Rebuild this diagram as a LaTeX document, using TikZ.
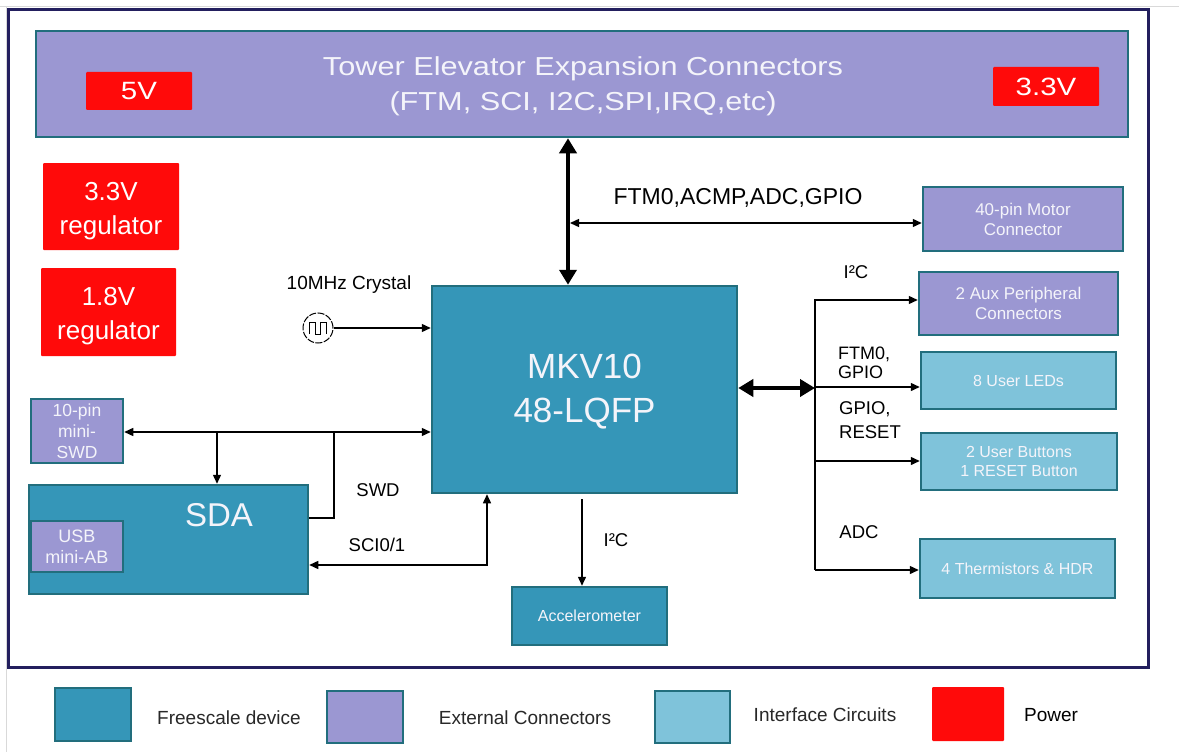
\documentclass[tikz,border=0pt]{standalone}
\usepackage{fontspec}
\setmainfont{Liberation Sans}
\newfontfamily\widefont[FakeStretch=1.18]{Liberation Sans}
\usetikzlibrary{arrows.meta}
\definecolor{devc}{RGB}{53,150,184}
\definecolor{extc}{RGB}{155,151,210}
\definecolor{ifcc}{RGB}{127,195,218}
\definecolor{pwrc}{RGB}{255,10,10}
\definecolor{bordc}{RGB}{34,110,125}
\definecolor{framec}{RGB}{35,31,94}
\definecolor{boxtxt}{RGB}{244,244,250}
\definecolor{legtxt}{RGB}{40,40,40}
\tikzset{
  box/.style={draw=bordc, line width=2.5pt, inner sep=0pt, text=boxtxt, align=center},
  devbox/.style={box, fill=devc},
  extbox/.style={box, fill=extc},
  ifcbox/.style={box, fill=ifcc},
  pwrbox/.style={fill=pwrc, draw=none, rounded corners=1pt, inner sep=0pt, text=white, align=center},
  inner/.style={text=boxtxt, inner sep=0pt, align=center},
  lbl/.style={text=black, inner sep=0pt, align=center},
  legl/.style={text=legtxt, inner sep=0pt, font=\fontsize{19}{22}\selectfont},
  wire/.style={line width=1.4pt, draw=black},
  arr/.style={wire, -{Triangle[length=9pt,width=8pt]}},
  arrboth/.style={wire, {Triangle[length=9pt,width=8pt]}-{Triangle[length=9pt,width=8pt]}},
  bigboth/.style={line width=4pt, draw=black, {Triangle[length=15pt,width=17pt]}-{Triangle[length=15pt,width=17pt]}}
}
\begin{document}
\begin{tikzpicture}[x=1pt,y=-1pt]
\useasboundingbox (0,0) rectangle (1179,752);
\fill[white] (0,0) rectangle (1179,752);
% faint outer border of the source image
\draw[line width=0.8pt, black!15] (0,6) -- (1179,6);
\draw[line width=0.8pt, black!15] (6,6) -- (6,752);
% main frame
\node[draw=framec, line width=3pt, minimum width=1140pt, minimum height=657pt, inner sep=0pt] (frame) at (578,338.5) {};

% Tower elevator
\node[extbox, minimum width=1092pt, minimum height=106pt] (tower) at (582,84) {};
\node[inner, font=\widefont\fontsize{26}{35}\selectfont] (towertxt) at (583,86) {Tower Elevator Expansion Connectors\\(FTM, SCI, I2C,SPI,IRQ,etc)};
\node[pwrbox, minimum width=106pt, minimum height=38pt, font=\widefont\fontsize{25}{30}\selectfont] (v5) at (139,91) {5V};
\node[pwrbox, minimum width=106pt, minimum height=39pt, font=\widefont\fontsize{25}{30}\selectfont] (v33) at (1046,86.5) {3.3V};

% regulators
\node[pwrbox, minimum width=136pt, minimum height=87pt] (reg33) at (111,206.5) {};
\node[inner, text=white, font=\fontsize{26}{34}\selectfont] (reg33t) at (111,211) {3.3V\\regulator};
\node[pwrbox, minimum width=135pt, minimum height=88pt] (reg18) at (108.5,312) {};
\node[inner, text=white, font=\fontsize{26}{34}\selectfont] (reg18t) at (108.5,316.5) {1.8V\\regulator};

% MCU
\node[devbox, minimum width=305pt, minimum height=207pt] (mkv) at (584.5,389.5) {};
\node[inner, font=\fontsize{35}{44}\selectfont] (mkvt) at (584.5,392) {MKV10\\48-LQFP};

% right side boxes
\node[extbox, minimum width=200pt, minimum height=64pt, font=\fontsize{17}{20}\selectfont] (motor) at (1023,219) {40-pin Motor\\Connector};
\node[extbox, minimum width=199pt, minimum height=63pt, font=\fontsize{17}{20}\selectfont] (aux) at (1018.5,303.5) {2 Aux Peripheral\\Connectors};
\node[ifcbox, minimum width=195pt, minimum height=57pt, font=\fontsize{16}{19}\selectfont] (leds) at (1018.5,380.5) {8 User LEDs};
\node[ifcbox, minimum width=196pt, minimum height=57pt, font=\fontsize{16}{19}\selectfont] (btns) at (1019,461.5) {2 User Buttons\\1 RESET Button};
\node[ifcbox, minimum width=195pt, minimum height=59pt, font=\fontsize{16}{19}\selectfont] (therm) at (1017.5,568.5) {4 Thermistors \& HDR};

% accelerometer
\node[devbox, minimum width=155pt, minimum height=58pt, font=\fontsize{16}{19}\selectfont] (accel) at (589.5,616) {Accelerometer};

% left side
\node[extbox, minimum width=92pt, minimum height=64pt, font=\fontsize{17.5}{21}\selectfont] (swd) at (77,431) {10-pin\\mini-\\SWD};
\node[devbox, minimum width=279pt, minimum height=109pt] (sda) at (168.5,539.5) {};
\node[inner, font=\fontsize{33}{38}\selectfont] (sdatxt) at (219,515) {SDA};
\node[extbox, minimum width=92pt, minimum height=51pt, font=\fontsize{18}{21}\selectfont] (usb) at (77,546.5) {USB\\mini-AB};

% crystal
\node[circle, draw=black, line width=1pt, dash pattern=on 7pt off 1.5pt, minimum size=30pt, inner sep=0pt] (xtal) at (318,328) {};
\draw[line width=1pt] ([xshift=-9pt,yshift=-6pt]xtal.center) -- ++(0,-12) -- ++(6,0) -- ++(0,12) -- ++(5,0) -- ++(0,-12) -- ++(6,0) -- ++(0,12);
\node[lbl, font=\fontsize{19}{22}\selectfont] (xtaltxt) at (349,285) {10MHz Crystal};

% helper coordinates
\coordinate (xT) at (568,0);
\coordinate (xF) at (570,0);
\coordinate (xB) at (815,0);
\coordinate (xS) at (217,0);
\coordinate (xW) at (334,0);
\coordinate (xC) at (487,0);
\coordinate (xI) at (582,0);
\coordinate (yF) at (0,223);
\coordinate (yR) at (0,388);
\coordinate (yA) at (0,300);
\coordinate (yL) at (0,387);
\coordinate (yBt) at (0,461);
\coordinate (yTh) at (0,570);
\coordinate (ySWD) at (0,432);
\coordinate (yW) at (0,518);
\coordinate (ySCI) at (0,565);

% connectors
\draw[arr] (xtal.east) -- (mkv.west |- xtal.east);
\draw[bigboth] (tower.south -| xT) -- (mkv.north -| xT);
\draw[arrboth] (xF |- yF) -- (motor.west |- yF);
\draw[bigboth] (mkv.east |- yR) -- (xB |- yR);
\draw[arr] (xB |- yTh) -- (xB |- yA) -- (aux.west |- yA);
\draw[arr] (xB |- yL) -- (leds.west |- yL);
\draw[arr] (xB |- yBt) -- (btns.west |- yBt);
\draw[arr] (xB |- yTh) -- (therm.west |- yTh);
\draw[arrboth] (swd.east |- ySWD) -- (mkv.west |- ySWD);
\draw[arr] (xS |- ySWD) -- (sda.north -| xS);
\draw[wire] (sda.east |- yW) -- (xW |- yW) -- (xW |- ySWD);
\draw[arrboth] (mkv.south -| xC) -- (xC |- ySCI) -- (sda.east |- ySCI);
\draw[arr] ([yshift=-5pt]mkv.south -| xI) -- (accel.north -| xI);

% connector labels
\node[lbl, font=\fontsize{23}{26}\selectfont] (lftm) at (738,198) {FTM0,ACMP,ADC,GPIO};
\node[lbl, font=\fontsize{18.5}{22}\selectfont] (li2ca) at (856,272) {I²C};
\node[lbl, anchor=west, align=left, font=\fontsize{18}{19}\selectfont] (lftmg) at (838,362.5) {FTM0,\\GPIO};
\node[lbl, anchor=west, align=left, font=\fontsize{18.5}{24}\selectfont] (lgpr) at (839,420) {GPIO,\\RESET};
\node[lbl, font=\fontsize{18.5}{22}\selectfont] (ladc) at (859,532) {ADC};
\node[lbl, font=\fontsize{18.5}{22}\selectfont] (lswd) at (378,490) {SWD};
\node[lbl, font=\fontsize{18.5}{22}\selectfont] (lsci) at (377,545) {SCI0/1};
\node[lbl, font=\fontsize{18.5}{22}\selectfont] (li2cb) at (616,540) {I²C};

% legend
\node[devbox, minimum width=76pt, minimum height=53pt] (lg1) at (93,714.5) {};
\node[legl] (lg1t) at (229,718) {Freescale device};
\node[extbox, minimum width=76pt, minimum height=52pt] (lg2) at (365,717) {};
\node[legl] (lg2t) at (525,718) {External Connectors};
\node[ifcbox, minimum width=75pt, minimum height=52pt] (lg3) at (692.5,717) {};
\node[legl] (lg3t) at (825,715) {Interface Circuits};
\node[pwrbox, minimum width=72pt, minimum height=54pt] (lg4) at (968,714) {};
\node[legl, text=black] (lg4t) at (1051,715) {Power};
\end{tikzpicture}
\end{document}
